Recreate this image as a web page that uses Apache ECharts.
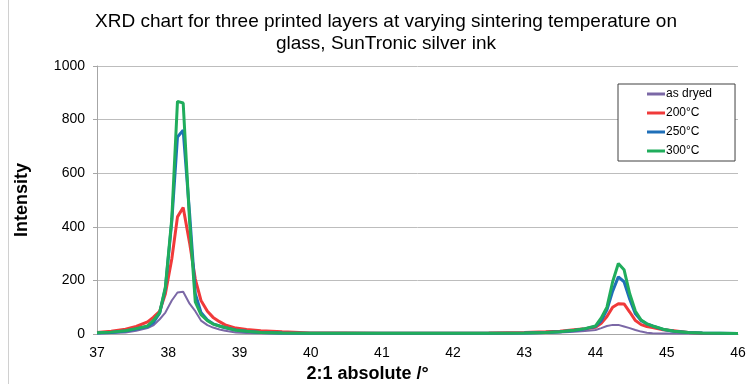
<!DOCTYPE html>
<html>
<head>
<meta charset="utf-8">
<script src="https://cdn.jsdelivr.net/npm/echarts@6/dist/echarts.min.js"></script>
<style>
  html, body { margin: 0; padding: 0; background: #fff; }
  #chart { width: 748px; height: 384px; }
</style>
</head>
<body>
<div id="chart"></div>
<script>
// 2theta positions (deg)
const xs = [37.0, 37.2, 37.4, 37.55, 37.71, 37.79, 37.88, 37.96, 38.05, 38.13,
  38.21, 38.3, 38.38, 38.46, 38.55, 38.63, 38.72, 38.8, 38.95, 39.1,
  39.3, 39.6, 40.0, 40.5, 41.0, 41.5, 42.0, 42.5, 43.0, 43.3,
  43.5, 43.7, 43.85, 44.0, 44.08, 44.16, 44.24, 44.32, 44.4, 44.48,
  44.56, 44.64, 44.72, 44.8, 44.95, 45.1, 45.3, 45.5, 45.75, 46.0]

const asDryed = [3, 4, 6, 12, 22, 32, 55, 80, 125, 155,
  158, 113, 85, 50, 33, 24, 17, 12, 6, 4,
  3, 2, 2, 2, 2, 2, 2, 2, 3, 4,
  6, 8, 11, 15, 22, 30, 34, 34, 28, 22,
  15, 9, 5, 3, 2, 2, 2, 2, 2, 2]
const t200 = [6, 10, 18, 28, 45, 62, 85, 150, 280, 437,
  472, 340, 205, 125, 85, 62, 46, 34, 22, 17,
  12, 8, 4, 4, 3, 3, 3, 4, 6, 8,
  10, 16, 20, 25, 40, 65, 100, 113, 112, 82,
  50, 35, 28, 24, 16, 12, 6, 3, 2, 2]
const t250 = [4, 6, 11, 19, 28, 42, 78, 170, 420, 735,
  760, 450, 150, 80, 52, 38, 30, 23, 15, 10,
  6, 4, 3, 3, 3, 3, 3, 3, 4, 6,
  8, 13, 19, 28, 50, 90, 160, 213, 195, 130,
  75, 50, 38, 30, 17, 10, 6, 4, 3, 2]
const t300 = [5, 7, 12, 20, 30, 50, 80, 175, 430, 868,
  862, 420, 120, 72, 50, 37, 30, 24, 14, 10,
  6, 4, 3, 3, 3, 3, 3, 3, 4, 6,
  8, 14, 20, 30, 60, 100, 195, 263, 240, 150,
  85, 52, 38, 30, 18, 10, 6, 4, 3, 2]

const names = ['as dryed', '200°C', '250°C', '300°C']
const colors = ['#7b68a6', '#f03a3a', '#1f6fb8', '#20ad5c']

function pairs(ys) {
  return xs.map(function (x, i) { return [x, ys[i]] })
}

const chart = echarts.init(document.getElementById('chart'))
const font = '"Liberation Sans", Arial, sans-serif'

const series = [asDryed, t200, t250, t300].map(function (ys, i) {
  return {
    type: 'line',
    name: names[i],
    data: pairs(ys),
    showSymbol: false,
    symbol: 'none',
    smooth: false,
    lineStyle: { width: i === 0 ? 2 : 3, color: colors[i] },
    itemStyle: { color: colors[i] },
    z: 2 + i
  }
})

const option = {
  animation: false,
  textStyle: { fontFamily: font },
  title: {
    text: 'XRD chart for three printed layers at varying sintering temperature on\nglass, SunTronic silver ink',
    left: 381,
    top: 6,
    textAlign: 'center',
    textStyle: {
      fontFamily: font,
      fontSize: 19,
      fontWeight: 'normal',
      color: '#000',
      lineHeight: 22
    }
  },
  legend: {
    orient: 'vertical',
    left: 618,
    top: 84,
    padding: [4, 23, 4, 29],
    itemGap: 7,
    itemWidth: 18,
    itemHeight: 3,
    icon: 'rect',
    borderColor: '#404040',
    borderWidth: 1,
    backgroundColor: '#fff',
    data: names,
    textStyle: { fontFamily: font, fontSize: 12, color: '#000', padding: [0, 0, 0, -4] }
  },
  grid: { left: 97, right: 10, top: 66, bottom: 50, outerBoundsMode: 'none', containLabel: false },
  xAxis: {
    type: 'value',
    min: 37,
    max: 46,
    interval: 1,
    name: '2:1 absolute /°',
    nameLocation: 'middle',
    nameGap: 31,
    nameTextStyle: { fontFamily: font, fontSize: 18, fontWeight: 'bold', color: '#000', padding: [0, 100, 0, 0] },
    axisLine: { show: true, lineStyle: { color: '#a6a6a6' } },
    axisTick: { show: false },
    splitLine: { show: false },
    axisLabel: { fontFamily: font, fontSize: 14, color: '#000', margin: 12 }
  },
  yAxis: {
    type: 'value',
    min: 0,
    max: 1000,
    interval: 200,
    name: 'Intensity',
    nameLocation: 'middle',
    nameGap: 66,
    nameTextStyle: { fontFamily: font, fontSize: 18, fontWeight: 'bold', color: '#000' },
    axisLine: { show: true, lineStyle: { color: '#a6a6a6' } },
    axisTick: { show: true, length: 4, lineStyle: { color: '#a6a6a6' } },
    splitLine: { show: true, lineStyle: { color: '#bdbdbd' } },
    axisLabel: {
      fontFamily: font, fontSize: 14, color: '#000', margin: 12,
      formatter: function (v) { return String(v) }
    }
  },
  graphic: [{
    type: 'line',
    shape: { x1: 8.5, y1: 0, x2: 8.5, y2: 384 },
    style: { stroke: '#d0d0d0', lineWidth: 1 }
  }],
  series: series
}

chart.setOption(option)
window.addEventListener('resize', function () {
  chart.resize()
})
</script>
</body>
</html>
